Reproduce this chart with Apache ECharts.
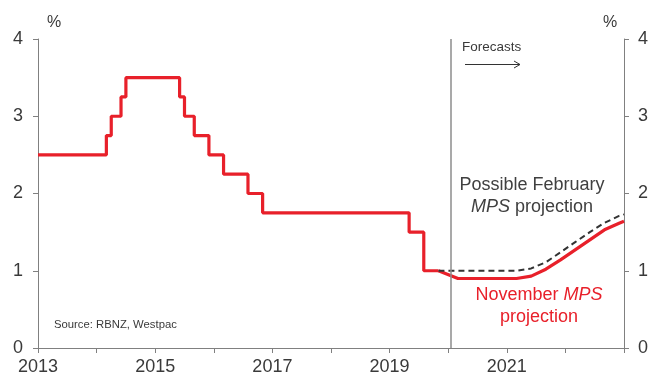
<!DOCTYPE html>
<html>
<head>
<meta charset="utf-8">
<script src="https://cdn.jsdelivr.net/npm/echarts@6/dist/echarts.min.js"></script>
<style>
html,body{margin:0;padding:0;background:#fff;}
#c{width:651px;height:376px;}
</style>
</head>
<body>
<div id="c"></div>
<script>
// ---- Data ----
const histDates = ['2013-01','2014-03','2014-04','2014-06','2014-07','2015-06','2015-07','2015-09','2015-12','2016-03','2016-08','2016-11','2019-05','2019-08','2019-11'];
const histRates = [2.5, 2.75, 3.0, 3.25, 3.5, 3.25, 3.0, 2.75, 2.5, 2.25, 2.0, 1.75, 1.5, 1.0, 1.0];

const fcDates = ['2019-11','2020-03','2020-06','2020-09','2020-12','2021-03','2021-06','2021-09','2021-12','2022-03','2022-06','2022-09','2022-12','2023-01'];
const novMPS = [1.0, 0.9, 0.9, 0.9, 0.9, 0.9, 0.93, 1.02, 1.14, 1.27, 1.40, 1.53, 1.615, 1.64];
const febMPS = [1.0, 1.0, 1.0, 1.0, 1.0, 1.0, 1.03, 1.11, 1.24, 1.37, 1.50, 1.62, 1.71, 1.73];

const forecastStart = '2020-01-15';
const xLabelYears = [2013, 2015, 2017, 2019, 2021];
const yTicks = [0, 1, 2, 3, 4];

// ---- Helpers ----
function dec(s){ const p = s.split('-'); return +p[0] + (+p[1]-1)/12 + (p[2] ? (+p[2]-1)/365 : 0); }
function pairs(d, v){ return d.map((x,i)=>[dec(x), v[i]]); }

const RED = '#E8202A';
const AX = '#808080';
const TXT = '#3a3a3a';
const FONT = '"Liberation Sans", Arial, sans-serif';

const chart = echarts.init(document.getElementById('c'), null, {renderer:'canvas'});
function yAxisDef(pos, margin){
  return {
    type:'value', position:pos, min:yTicks[0], max:yTicks[yTicks.length-1], interval:1,
    axisLine:{show:true, lineStyle:{color:AX, width:1}},
    axisTick:{show:true, length:5, lineStyle:{color:AX}},
    splitLine:{show:false},
    axisLabel:{fontSize:18, color:TXT, fontFamily:FONT, margin:margin}
  };
}
chart.setOption({
  animation:false,
  backgroundColor:'#fff',
  grid:{left:38, right:24, top:39, bottom:28, containLabel:false},
  xAxis:{
    type:'value', min:2013, max:2023, interval:1,
    axisLine:{show:true, onZero:false, lineStyle:{color:AX, width:1}},
    axisTick:{show:true, length:5, lineStyle:{color:AX}},
    splitLine:{show:false},
    axisLabel:{fontSize:18, color:TXT, fontFamily:FONT, margin:10,
      formatter:v => xLabelYears.indexOf(v) >= 0 ? String(v) : ''}
  },
  yAxis:[ yAxisDef('left', 15), yAxisDef('right', 14) ],
  series:[
    {
      type:'line', step:'end', data:pairs(histDates, histRates),
      showSymbol:false, lineStyle:{color:RED, width:3.2}, z:3,
      markLine:{
        silent:true, symbol:['none','none'], label:{show:false},
        lineStyle:{color:'#8c8c8c', width:1.5, type:'solid'},
        data:[{xAxis:dec(forecastStart)}]
      }
    },
    {
      type:'line', data:pairs(fcDates, novMPS),
      showSymbol:false, lineStyle:{color:RED, width:3.2}, z:3
    },
    {
      type:'line', data:pairs(fcDates, febMPS),
      showSymbol:false, lineStyle:{color:'#333333', width:2, type:[6,4]}, z:4
    }
  ],
  graphic:[
    {type:'text', left:47, top:15, style:{text:'%', fontSize:16, fill:TXT, fontFamily:FONT}},
    {type:'text', left:603, top:15, style:{text:'%', fontSize:16, fill:TXT, fontFamily:FONT}},
    {type:'text', left:462, top:40, style:{text:'Forecasts', fontSize:13.5, fill:TXT, fontFamily:FONT}},
    {type:'line', shape:{x1:465, y1:64.5, x2:520, y2:64.5}, style:{stroke:'#333', lineWidth:1}},
    {type:'polyline', shape:{points:[[514,61],[520,64.5],[514,68]]}, style:{stroke:'#333', lineWidth:1, fill:null}},
    {type:'text', x:532, y:185, style:{text:'Possible February', fontSize:18, fill:'#404040', fontFamily:FONT, align:'center', verticalAlign:'middle'}},
    {type:'text', x:532, y:207, style:{text:'{i|MPS} projection', fontSize:18, fill:'#404040', fontFamily:FONT, align:'center', verticalAlign:'middle',
      rich:{i:{fontStyle:'italic', fontSize:18, fill:'#404040', fontFamily:FONT}}}},
    {type:'text', x:539, y:295, style:{text:'November {i|MPS}', fontSize:18, fill:RED, fontFamily:FONT, align:'center', verticalAlign:'middle',
      rich:{i:{fontStyle:'italic', fontSize:18, fill:RED, fontFamily:FONT}}}},
    {type:'text', x:539, y:317, style:{text:'projection', fontSize:18, fill:RED, fontFamily:FONT, align:'center', verticalAlign:'middle'}},
    {type:'text', left:54, top:319, style:{text:'Source: RBNZ, Westpac', fontSize:11.3, fill:TXT, fontFamily:FONT}}
  ]
});
</script>
</body>
</html>
